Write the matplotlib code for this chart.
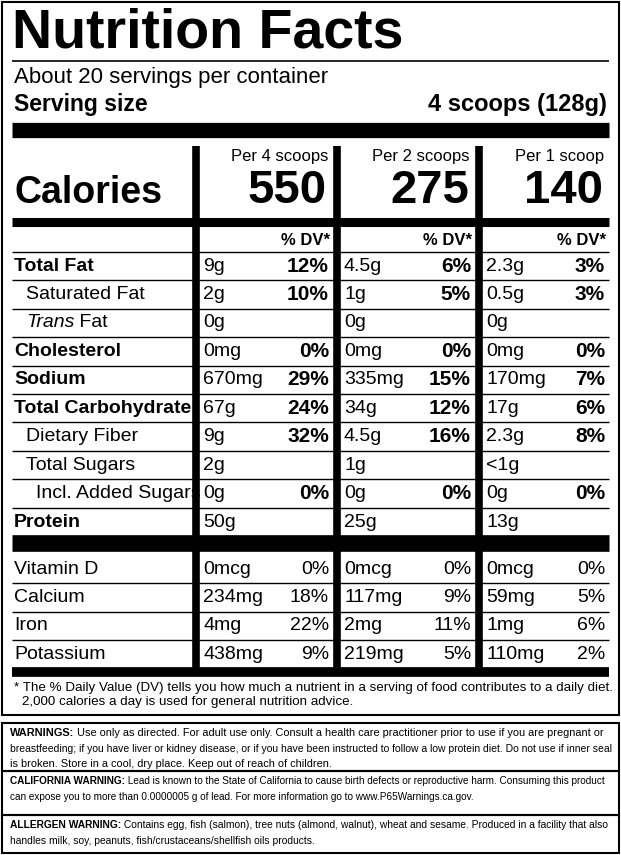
"""
Nutrition facts label drawn with matplotlib text and lines.
"""

import matplotlib.pyplot as plt

W, H = 621, 855

col_heads = ['Per 4 scoops', 'Per 2 scoops', 'Per 1 scoop']
calories = ['550', '275', '140']

nutrients = ['Total Fat', 'Saturated Fat', 'Trans Fat', 'Cholesterol', 'Sodium',
             'Total Carbohydrate', 'Dietary Fiber', 'Total Sugars',
             'Incl. Added Sugars', 'Protein']
indent = [0, 1, 1, 0, 0, 0, 1, 1, 2, 0]
bold = [True, False, False, True, True, True, False, False, False, True]
amounts = [
    ['9g', '2g', '0g', '0mg', '670mg', '67g', '9g', '2g', '0g', '50g'],
    ['4.5g', '1g', '0g', '0mg', '335mg', '34g', '4.5g', '1g', '0g', '25g'],
    ['2.3g', '0.5g', '0g', '0mg', '170mg', '17g', '2.3g', '<1g', '0g', '13g'],
]
pcts = [
    ['12%', '10%', '', '0%', '29%', '24%', '32%', '', '0%', ''],
    ['6%', '5%', '', '0%', '15%', '12%', '16%', '', '0%', ''],
    ['3%', '3%', '', '0%', '7%', '6%', '8%', '', '0%', ''],
]

minerals = ['Vitamin D', 'Calcium', 'Iron', 'Potassium']
min_amounts = [
    ['0mcg', '234mg', '4mg', '438mg'],
    ['0mcg', '117mg', '2mg', '219mg'],
    ['0mcg', '59mg', '1mg', '110mg'],
]
min_pcts = [
    ['0%', '18%', '22%', '9%'],
    ['0%', '9%', '11%', '5%'],
    ['0%', '5%', '6%', '2%'],
]

warnings = [
    ('WARNINGS:', ' Use only as directed. For adult use only. Consult a health care practitioner prior to use if you are pregnant or',
     ['breastfeeding; if you have liver or kidney disease, or if you have been instructed to follow a low protein diet. Do not use if inner seal',
      'is broken. Store in a cool, dry place. Keep out of reach of children.']),
    ('CALIFORNIA WARNING:', ' Lead is known to the State of California to cause birth defects or reproductive harm. Consuming this product',
     ['can expose you to more than 0.0000005 g of lead. For more information go to www.P65Warnings.ca.gov.']),
    ('ALLERGEN WARNING:', ' Contains egg, fish (salmon), tree nuts (almond, walnut), wheat and sesame. Produced in a facility that also',
     ['handles milk, soy, peanuts, fish/crustaceans/shellfish oils products.']),
]

FONT = ['Liberation Sans', 'DejaVu Sans']

fig = plt.figure(figsize=(W / 100, H / 100), dpi=100)
ax = fig.add_axes([0, 0, 1, 1])
ax.set_xlim(0, W)
ax.set_ylim(H, 0)
ax.axis('off')


def txt(x, y, s, size, weight='normal', ha='left', **kw):
    return ax.text(x, y, s, fontsize=size, fontweight=weight, ha=ha, va='center',
                   family=FONT, **kw)


def xright(t):
    fig.canvas.draw()
    return t.get_window_extent().transformed(ax.transData.inverted()).x1


def hline(y, lw, x0=12, x1=609):
    ax.plot([x0, x1], [y, y], color='black', lw=lw, solid_capstyle='butt')


# outer box of the label
ax.add_patch(plt.Rectangle((2, 2), 617, 713, fill=False, lw=1.5, ec='black'))

txt(12, 33, 'Nutrition Facts', 40, 'bold')
hline(61, 1.2)
txt(14, 77, 'About 20 servings per container', 16)
txt(14, 105, 'Serving size', 16.5, 'bold')
txt(607, 105, '4 scoops (128g)', 17, 'bold', ha='right')
hline(130.5, 11)

col_left = [200, 341, 483]
col_right = [333, 475, 609]
for x in [196, 337, 479]:
    ax.plot([x, x], [146, 672], color='black', lw=5.5, solid_capstyle='butt')

txt(14, 193, 'Calories', 27, 'bold')
for i in range(3):
    txt(col_right[i] - 5, 157, col_heads[i], 12, 'medium', ha='right')
    txt(col_right[i] - 6, 191, calories[i], 34, 'bold', ha='right')
hline(222, 6.5)

for i in range(3):
    txt(col_right[i] - 3, 240, '% DV*', 12, 'bold', ha='right')

FS = 14
y0, step = 266, 28.45
hline(252, 1)
for r, name in enumerate(nutrients):
    y = y0 + r * step
    if name == 'Trans Fat':
        t = txt(26, y, 'Trans', FS, style='italic')
        txt(xright(t), y, ' Fat', FS)
    else:
        txt(14 + 12 * indent[r] - (2 if indent[r] == 2 else 0), y, name, FS,
            'bold' if bold[r] else 'normal')
    for c in range(3):
        txt(col_left[c] + 3, y, amounts[c][r], FS)
        txt(col_right[c] - 4, y, pcts[c][r], 15, 'bold', ha='right')
    if r < len(nutrients) - 1:
        hline(y + step / 2, 1)
hline(543, 12)

y0m = 569
for r, name in enumerate(minerals):
    y = y0m + r * step
    txt(14, y, name, FS)
    for c in range(3):
        txt(col_left[c] + 3, y, min_amounts[c][r], FS)
        txt(col_right[c] - 4, y, min_pcts[c][r], FS, ha='right')
    if r < len(minerals) - 1:
        hline(y + step / 2, 1)
hline(672, 7)

txt(14, 688, '* The % Daily Value (DV) tells you how much a nutrient in a serving of food contributes to a daily diet.', 9.6)
txt(22, 702, '2,000 calories a day is used for general nutrition advice.', 9.6)

# warning boxes; font size is fitted so the long lines span the box width
box_tops = [723, 771, 815, 853]
x_end = 611
for i, (head, first, rest) in enumerate(warnings):
    top, bot = box_tops[i], box_tops[i + 1]
    ax.add_patch(plt.Rectangle((2, top), 617, bot - top, fill=False, lw=1.5, ec='black'))
    y = top + 10
    size = 8.0
    h = txt(10, y, head, size, 'bold')
    b = txt(xright(h), y, first, size)
    scale = (x_end - 10) / (xright(b) - 10)
    size *= scale
    h.set_fontsize(size)
    b.set_fontsize(size)
    b.set_x(xright(h))
    for line in rest:
        y += 15.5
        t = txt(10, y, line, size)
        if xright(t) > x_end:
            t.set_fontsize(size * (x_end - 10) / (xright(t) - 10))

fig.savefig('out.png', dpi=100)
